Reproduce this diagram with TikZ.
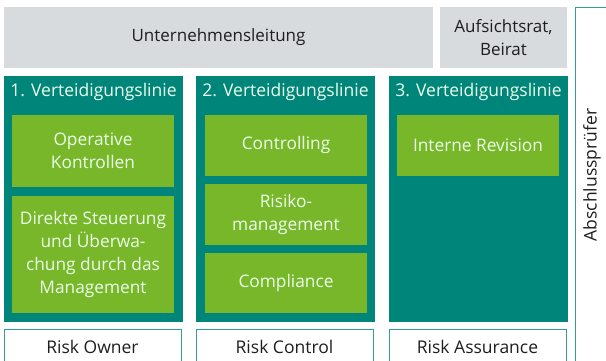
\documentclass[tikz,border=0pt]{standalone}
\usepackage{fontspec}
\setmainfont{Open Sans}
\definecolor{greybox}{RGB}{215,219,222}
\definecolor{tealbox}{RGB}{0,133,122}
\definecolor{greenbox}{RGB}{120,183,42}
\definecolor{darktext}{RGB}{30,30,30}
\begin{document}
\begin{tikzpicture}[x=1pt,y=-1pt,
  greyb/.style={fill=greybox,draw=none,inner sep=0pt,font=\fontsize{17}{23}\selectfont,text=darktext,align=center},
  tealb/.style={fill=tealbox,draw=none,inner sep=0pt},
  greenb/.style={fill=greenbox,draw=none,inner sep=0pt,text=white!92!green,font=\fontsize{17.3}{23}\selectfont,align=center},
  headtxt/.style={inner sep=0pt,text=white!92!green,font=\fontsize{17.5}{21}\selectfont},
  riskb/.style={fill=white,draw=tealbox!80!white,line width=0.9pt,inner sep=0pt},
  risktxt/.style={inner sep=0pt,text=darktext,font=\fontsize{17.5}{21}\selectfont}]
\useasboundingbox (0,0) rectangle (606,361);
\begin{scope}
\clip (0,0) rectangle (606,361);
% top row
\node[greyb,minimum width=429pt,minimum height=61pt] (ul) at (218.5,37.5) {Unternehmensleitung};
\node[greyb,minimum width=127pt,minimum height=61pt] (ar) at (503.5,37.5) {Aufsichtsrat,\\Beirat};
% columns
\node[tealb,minimum width=179pt,minimum height=246pt] (c1) at (93.5,199) {};
\node[tealb,minimum width=179pt,minimum height=246pt] (c2) at (285.5,199) {};
\node[tealb,minimum width=179pt,minimum height=246pt] (c3) at (478.5,199) {};
\node[headtxt] (h1) at (93.5,92) {1. Verteidigungslinie};
\node[headtxt] (h2) at (285.5,92) {2. Verteidigungslinie};
\node[headtxt] (h3) at (478.5,92) {3. Verteidigungslinie};
% green boxes
\node[greenb,minimum width=162pt,minimum height=72pt] (g11) at (93,151) {Operative\\Kontrollen};
\node[greenb,minimum width=162pt,minimum height=117pt] (g12) at (93,254.5) {Direkte Steuerung\\und Überwa-\\chung durch das\\Management};
\node[greenb,minimum width=162pt,minimum height=61pt] (g21) at (286,145.5) {Controlling};
\node[greenb,minimum width=162pt,minimum height=61pt] (g22) at (286,214.5) {Risiko-\\management};
\node[greenb,minimum width=162pt,minimum height=60pt] (g23) at (286,283) {Compliance};
\node[greenb,minimum width=162pt,minimum height=61pt] (g31) at (478,145.5) {Interne Revision};
% bottom boxes
\node[riskb,minimum width=177pt,minimum height=40pt] (r1) at (92.5,349) {};
\node[riskb,minimum width=177pt,minimum height=40pt] (r2) at (284.5,349) {};
\node[riskb,minimum width=177pt,minimum height=40pt] (r3) at (477.5,349) {};
\node[risktxt] (t1) at (92.5,346.5) {Risk Owner};
\node[risktxt] (t2) at (284.5,346.5) {Risk Control};
\node[risktxt] (t3) at (477.5,346.5) {Risk Assurance};
% Abschlusspruefer
\node[riskb,minimum width=45pt,minimum height=370pt] (ap) at (597.5,192) {};
\node[risktxt,rotate=90] (apt) at (592,175) {Abschlussprüfer};
\end{scope}
\end{tikzpicture}
\end{document}
